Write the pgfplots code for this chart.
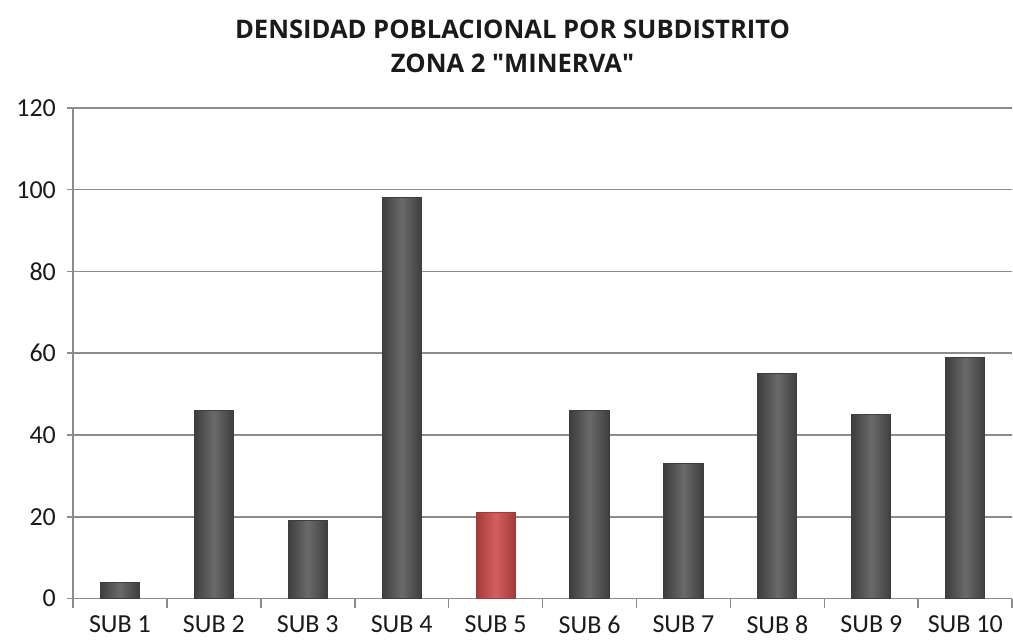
\documentclass[border=0pt]{standalone}
\usepackage{fontspec}
\setmainfont{Carlito}
\newfontfamily\titlefont{Open Sans}
\usepackage{pgfplots}
\pgfplotsset{compat=1.18}
\definecolor{gridc}{HTML}{8C8C8C}
\definecolor{barDk}{HTML}{3E3E3E}
\definecolor{barMd}{HTML}{6A6A6A}
\definecolor{redDk}{HTML}{A33A3A}
\definecolor{redMd}{HTML}{D65E5E}
\definecolor{txt}{HTML}{1A1A1A}

\pgfplotsset{
  greybar/.style={draw=barDk, line width=0.6pt, left color=barDk, right color=barDk, middle color=barMd},
  redbar/.style={draw=redDk, line width=0.6pt, left color=redDk, right color=redDk, middle color=redMd},
}

\begin{document}
\begin{tikzpicture}
\begin{axis}[
    name=ax,
    scale only axis,
    width=470pt, height=245.5pt,
    xmin=0.5, xmax=10.5,
    ymin=0, ymax=120,
    ytick={0,20,...,120},
    xtick={1,...,10},
    xticklabels={SUB 1,SUB 2,SUB 3,SUB 4,SUB 5,SUB 6,SUB 7,SUB 8,SUB 9,SUB 10},
    minor xtick={0.5,1.5,...,10.5},
    major x tick style={draw=none},
    minor tick length=4.5pt,
    major tick length=3pt,
    tick align=outside,
    tick style={gridc, line width=0.8pt},
    axis x line*=bottom, axis y line*=left,
    axis line style={gridc, line width=0.8pt},
    ymajorgrids,
    grid style={gridc, line width=0.8pt},
    tick label style={font=\fontsize{13}{14}\selectfont, text=txt},
    /pgf/number format/assume math mode=true,
    yticklabel style={xshift=-2pt},
    xticklabel style={yshift=-2pt},
    title={DENSIDAD POBLACIONAL POR SUBDISTRITO\\ZONA 2 \textquotedbl MINERVA\textquotedbl},
    title style={align=center, font=\titlefont\bfseries\fontsize{12.8}{17}\selectfont, text=txt,
        at={(0.468,1)}, anchor=south, yshift=8pt},
    ybar, bar width=19.5pt, bar shift=0pt,
]
\addplot[greybar] coordinates {(1,4)};
\addplot[greybar] coordinates {(2,46)};
\addplot[greybar] coordinates {(3,19)};
\addplot[greybar] coordinates {(4,98)};
\addplot[redbar]  coordinates {(5,21)};
\addplot[greybar] coordinates {(6,46)};
\addplot[greybar] coordinates {(7,33)};
\addplot[greybar] coordinates {(8,55)};
\addplot[greybar] coordinates {(9,45)};
\addplot[greybar] coordinates {(10,59)};
\end{axis}
\path ([shift={(-36.5pt,-20pt)}]ax.south west) rectangle ([shift={(0pt,54pt)}]ax.north east);
\end{tikzpicture}
\end{document}
